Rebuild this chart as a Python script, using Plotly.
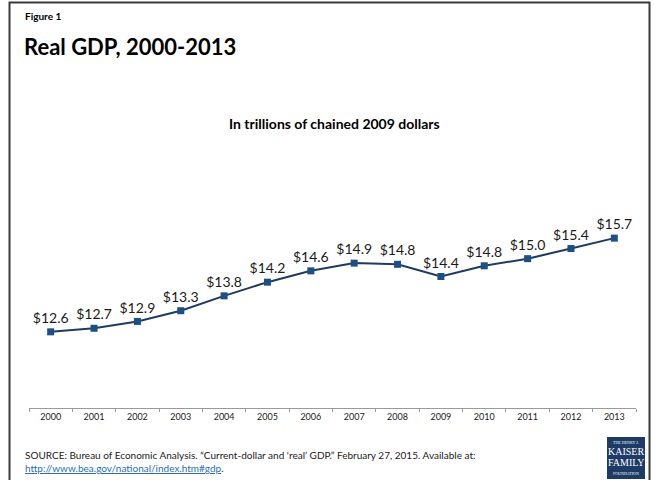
import plotly.graph_objects as go

# Real GDP, trillions of chained 2009 dollars
years = ["2000", "2001", "2002", "2003", "2004", "2005", "2006",
         "2007", "2008", "2009", "2010", "2011", "2012", "2013"]
gdp = [12.56, 12.68, 12.91, 13.27, 13.77, 14.23, 14.61,
       14.87, 14.83, 14.42, 14.78, 15.02, 15.36, 15.71]
labels = [f"${v:.1f}" for v in gdp]

W, H = 655, 480
FONT = "Lato"
LINE_COLOR = "#1f3b63"
MARKER_COLOR = "#1c4f82"

fig = go.Figure()
fig.add_trace(go.Scatter(
    x=years, y=gdp, mode="lines+markers+text",
    text=labels, textposition="top center",
    textfont=dict(family=FONT, size=14, color="#1a1a1a"),
    line=dict(color=LINE_COLOR, width=2),
    marker=dict(symbol="square", size=7, color=MARKER_COLOR,
                line=dict(width=0)),
    cliponaxis=False, hoverinfo="skip",
))

fig.update_layout(
    width=W, height=H,
    margin=dict(l=0, r=0, t=0, b=0),
    paper_bgcolor="white", plot_bgcolor="white",
    showlegend=False,
    xaxis=dict(
        domain=[29 / W, 636 / W],
        type="category",
        range=[-0.5, len(years) - 0.5],
        tickson="boundaries",
        ticks="outside", ticklen=3, tickcolor="#9a9a9a", tickwidth=1,
        showline=True, linecolor="#9a9a9a", linewidth=1,
        showgrid=False, zeroline=False,
        tickfont=dict(family=FONT, size=9, color="#1a1a1a"),
        fixedrange=True,
    ),
    yaxis=dict(
        domain=[(H - 408) / H, (H - 170) / H],
        range=[10, 18],
        visible=False,
        fixedrange=True,
    ),
)

# Outer frame
fig.add_shape(type="rect", xref="paper", yref="paper",
              x0=9.5 / W, x1=649.5 / W, y0=-0.05, y1=(H - 2.5) / H,
              line=dict(color="#3a3a3a", width=2), fillcolor="rgba(0,0,0,0)")

# Titles
fig.add_annotation(xref="paper", yref="paper", x=23 / W, y=(H - 16) / H,
                   xanchor="left", yanchor="middle", showarrow=False,
                   text="<b>Figure 1</b>",
                   font=dict(family=FONT, size=10, color="#000000"))
fig.add_annotation(xref="paper", yref="paper", x=22 / W, y=(H - 47) / H,
                   xanchor="left", yanchor="middle", showarrow=False,
                   text="<b>Real GDP, 2000-2013</b>",
                   font=dict(family=FONT, size=22, color="#000000"))
fig.add_annotation(xref="paper", yref="paper", x=334 / W, y=(H - 124) / H,
                   xanchor="center", yanchor="middle", showarrow=False,
                   text="<b>In trillions of chained 2009 dollars</b>",
                   font=dict(family=FONT, size=14, color="#000000"))

# Source note
fig.add_annotation(xref="paper", yref="paper", x=23 / W, y=(H - 455) / H,
                   xanchor="left", yanchor="middle", showarrow=False,
                   text="SOURCE: Bureau of Economic Analysis. \u201cCurrent-dollar and \u2018real\u2019 GDP.\u201d February 27, 2015. Available at:",
                   font=dict(family=FONT, size=10, color="#1a1a1a"))
fig.add_annotation(xref="paper", yref="paper", x=23 / W, y=(H - 468) / H,
                   xanchor="left", yanchor="middle", showarrow=False,
                   text="<span style='text-decoration:underline;color:#2a6ebb'>http://www.bea.gov/national/index.htm#gdp</span>.",
                   font=dict(family=FONT, size=10, color="#1a1a1a"))

# Foundation logo
fig.add_shape(type="rect", xref="paper", yref="paper",
              x0=607 / W, x1=645 / W, y0=(H - 479) / H, y1=(H - 437) / H,
              line=dict(width=0), fillcolor="#1e3a66")
logo_lines = [("THE HENRY J.", 4, 442), ("KAISER", 10, 451),
              ("FAMILY", 10, 462), ("FOUNDATION", 4, 473)]
for txt, sz, yy in logo_lines:
    fig.add_annotation(xref="paper", yref="paper", x=626 / W, y=(H - yy) / H,
                       xanchor="center", yanchor="middle", showarrow=False,
                       text=txt,
                       font=dict(family="Liberation Serif", size=sz, color="white"))

fig.write_html("out.html")
